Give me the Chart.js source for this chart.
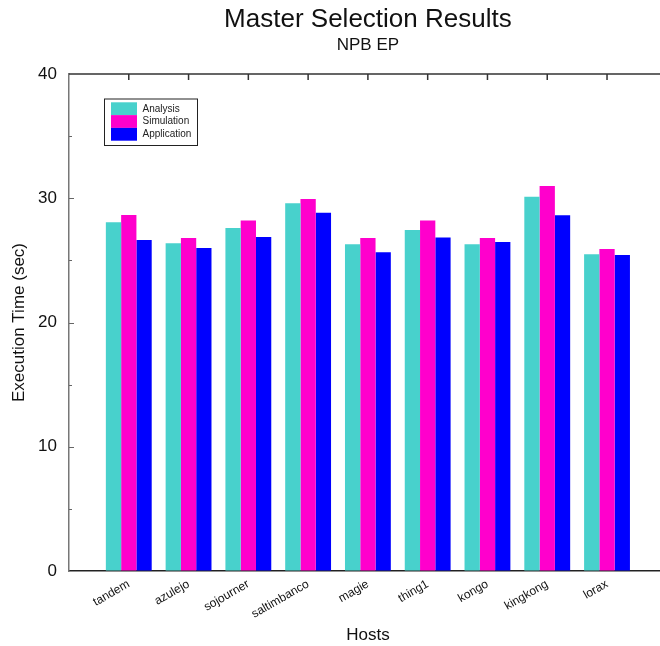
<!DOCTYPE html>
<html>
<head>
<meta charset="utf-8">
<title>Master Selection Results</title>
<script src="https://cdn.jsdelivr.net/npm/chart.js@4/dist/chart.umd.min.js"></script>
<style>
  html, body { margin: 0; padding: 0; overflow: hidden; background: #fff; }
  #wrap { position: relative; width: 680px; height: 646px; }
</style>
</head>
<body>
<div id="wrap"><canvas id="master-selection"></canvas></div>
<script>
var hosts = ['tandem', 'azulejo', 'sojourner', 'saltimbanco', 'magie', 'thing1', 'kongo', 'kingkong', 'lorax'];
var analysis = [28.06, 26.37, 27.60, 29.60, 26.30, 27.44, 26.30, 30.13, 25.49];
var simulation = [28.65, 26.80, 28.20, 29.94, 26.80, 28.20, 26.80, 30.99, 25.92];
var application = [26.64, 26.00, 26.88, 28.84, 25.65, 26.85, 26.48, 28.63, 25.43];
var yMin = 0, yMax = 40, yStep = 10;
var xMin = 0, xMax = 10;

Chart.defaults.font.family = 'Liberation Sans, Arial, Helvetica, sans-serif';
Chart.defaults.color = '#111';

function points(arr) {
  return arr.map(function(v, i) { return {x: i + 1, y: v}; });
}

// top frame line, inward tick marks and the boxed legend
var frame = {
  id: 'frame',
  afterDraw: function(chart) {
    var ctx = chart.ctx;
    var area = chart.chartArea;
    var xs = chart.scales.x;
    var ys = chart.scales.y;
    ctx.save();
    ctx.strokeStyle = '#333';
    ctx.lineWidth = 1.5;
    ctx.beginPath();
    ctx.moveTo(area.left, area.top);
    ctx.lineTo(area.right, area.top);
    hosts.forEach(function(h, i) {
      var px = xs.getPixelForValue(i + 1);
      ctx.moveTo(px, area.top);
      ctx.lineTo(px, area.top + 6);
    });
    ctx.stroke();

    ctx.strokeStyle = '#666';
    ctx.lineWidth = 1;
    ctx.beginPath();
    for (var v = yMin + yStep / 2; v < yMax; v += yStep / 2) {
      var py = Math.round(ys.getPixelForValue(v)) + 0.5;
      var len = (v % yStep === 0) ? 5 : 3;
      ctx.moveTo(area.left, py);
      ctx.lineTo(area.left + len, py);
    }
    ctx.stroke();

    // legend
    var bx = area.left + 35.5, by = area.top + 25;
    ctx.fillStyle = '#fff';
    ctx.fillRect(bx, by, 93, 46.5);
    ctx.strokeStyle = '#222';
    ctx.lineWidth = 1;
    ctx.strokeRect(bx, by, 93, 46.5);
    ctx.font = '10px Liberation Sans, Arial, sans-serif';
    ctx.textBaseline = 'middle';
    ctx.textAlign = 'left';
    chart.data.datasets.forEach(function(ds, i) {
      ctx.fillStyle = ds.backgroundColor;
      ctx.fillRect(bx + 6.5, by + 3.3 + i * 12.8, 26, 12.8);
      ctx.fillStyle = '#222';
      ctx.fillText(ds.label, bx + 38, by + 10 + i * 12.7);
    });
    ctx.restore();
  }
};

var ctx = document.getElementById('master-selection');
var chart = new Chart(ctx, {
  type: 'bar',
  data: {
    datasets: [
      {
        label: 'Analysis',
        data: points(analysis),
        backgroundColor: '#48d1cc',
        borderWidth: 0
      },
      {
        label: 'Simulation',
        data: points(simulation),
        backgroundColor: '#ff00cc',
        borderWidth: 0
      },
      {
        label: 'Application',
        data: points(application),
        backgroundColor: '#0000ff',
        borderWidth: 0
      }
    ]
  },
  options: {
    responsive: true,
    maintainAspectRatio: false,
    animation: false,
    categoryPercentage: 0.767,
    barPercentage: 1,
    layout: {
      padding: {left: 0, right: 11, top: 0, bottom: 0}
    },
    scales: {
      x: {
        type: 'linear',
        min: xMin,
        max: xMax,
        offset: false,
        afterFit: function(scale) { scale.height = 75; },
        grid: {
          display: true,
          offset: false,
          drawOnChartArea: false,
          drawTicks: false
        },
        border: {color: '#222', width: 1.5},
        ticks: {
          stepSize: 1,
          autoSkip: false,
          minRotation: 30,
          maxRotation: 30,
          padding: 6,
          font: {size: 12},
          callback: function(value) { return hosts[value - 1] || ''; }
        },
        title: {
          display: true,
          text: 'Hosts',
          font: {size: 17},
          padding: {top: 0, bottom: 0}
        }
      },
      y: {
        min: yMin,
        max: yMax,
        afterFit: function(scale) { scale.width = 69; },
        grid: {
          display: true,
          drawOnChartArea: false,
          drawTicks: false
        },
        border: {color: '#777', width: 1.5},
        ticks: {
          stepSize: yStep,
          padding: 12,
          font: {size: 17}
        },
        title: {
          display: true,
          text: 'Execution Time (sec)',
          font: {size: 17},
          padding: {top: 9, bottom: 0}
        }
      }
    },
    plugins: {
      legend: {display: false},
      tooltip: {enabled: false},
      title: {
        display: true,
        text: 'Master Selection Results',
        fullSize: false,
        font: {size: 26, weight: 'normal'},
        padding: {top: 4, bottom: 0}
      },
      subtitle: {
        display: true,
        text: 'NPB EP',
        fullSize: false,
        font: {size: 17},
        color: '#111',
        padding: {top: 0, bottom: 18.4}
      }
    }
  },
  plugins: [frame]
});
</script>
</body>
</html>
